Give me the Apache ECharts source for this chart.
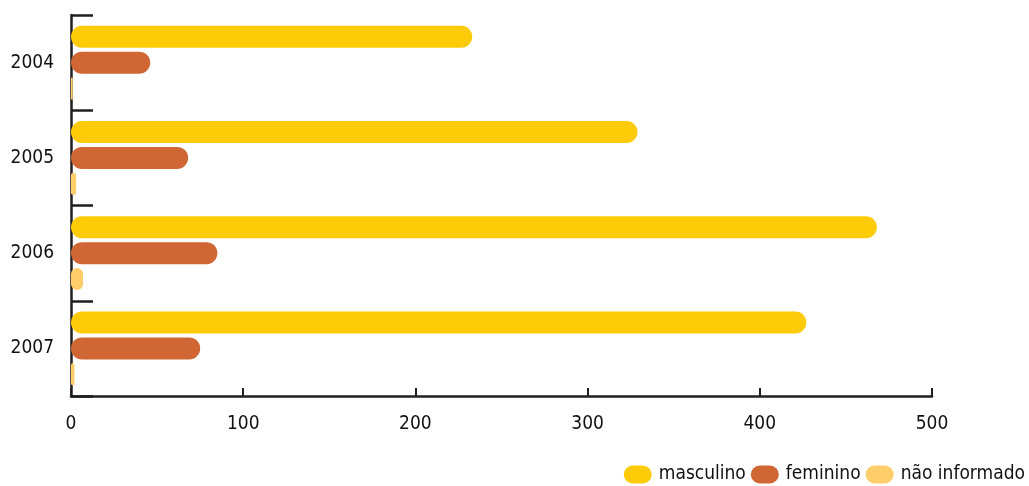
<!DOCTYPE html>
<html>
<head>
<meta charset="utf-8">
<script src="https://cdn.jsdelivr.net/npm/echarts@6/dist/echarts.min.js"></script>
<style>
html,body{margin:0;padding:0;background:#fff;}
#chart{width:1029px;height:486px;}
</style>
</head>
<body>
<div id="chart"></div>
<script>
const categories = ['2004', '2005', '2006', '2007'];
const masculino = [233, 329, 468, 427];
const feminino = [46, 68, 85, 75];
const naoInformado = [1, 3, 7, 2];
const seriesNames = ['masculino', 'feminino', 'não informado'];
const colors = ['#FDCB07', '#CF6633', '#FFCD6A'];

const FONT = '"DejaVu Sans Condensed", "DejaVu Sans", sans-serif';
const AXIS_COLOR = '#231F20';
const pill = 'path://M9,0 H19 A9,9 0 0 1 19,18 H9 A9,9 0 0 1 9,0 Z';

const chart = echarts.init(document.getElementById('chart'));
const mkSeries = (name, data, color) => ({
  name: name,
  type: 'bar',
  data: data,
  barWidth: 22,
  barGap: '18%',
  itemStyle: { color: color, borderRadius: 11 },
  animation: false
});

chart.setOption({
  animation: false,
  grid: { left: 71, right: 97, top: 15, bottom: 90, containLabel: false },
  legend: {
    data: seriesNames,
    right: 0,
    top: 465,
    padding: [0, 4, 0, 0],
    itemWidth: 28,
    itemHeight: 19,
    itemGap: 5,
    icon: pill,
    textStyle: { fontFamily: FONT, fontSize: 19, color: '#111', padding: [0, 0, 0, 2] }
  },
  xAxis: {
    type: 'value',
    min: 0,
    max: 500,
    interval: 100,
    axisLine: { show: true, lineStyle: { color: AXIS_COLOR, width: 2.5 } },
    axisTick: { show: true, inside: true, length: 8, lineStyle: { color: AXIS_COLOR, width: 2 } },
    splitLine: { show: false },
    axisLabel: { fontFamily: FONT, fontSize: 19, color: '#111', margin: 19 }
  },
  yAxis: {
    type: 'category',
    data: categories,
    inverse: true,
    axisLine: { show: true, lineStyle: { color: AXIS_COLOR, width: 2.5 } },
    axisTick: { show: true, inside: true, length: 22, lineStyle: { color: AXIS_COLOR, width: 2.5 } },
    axisLabel: { fontFamily: FONT, fontSize: 19, color: '#111', margin: 17 }
  },
  series: [
    mkSeries(seriesNames[0], masculino, colors[0]),
    mkSeries(seriesNames[1], feminino, colors[1]),
    mkSeries(seriesNames[2], naoInformado, colors[2])
  ]
});
</script>
</body>
</html>
